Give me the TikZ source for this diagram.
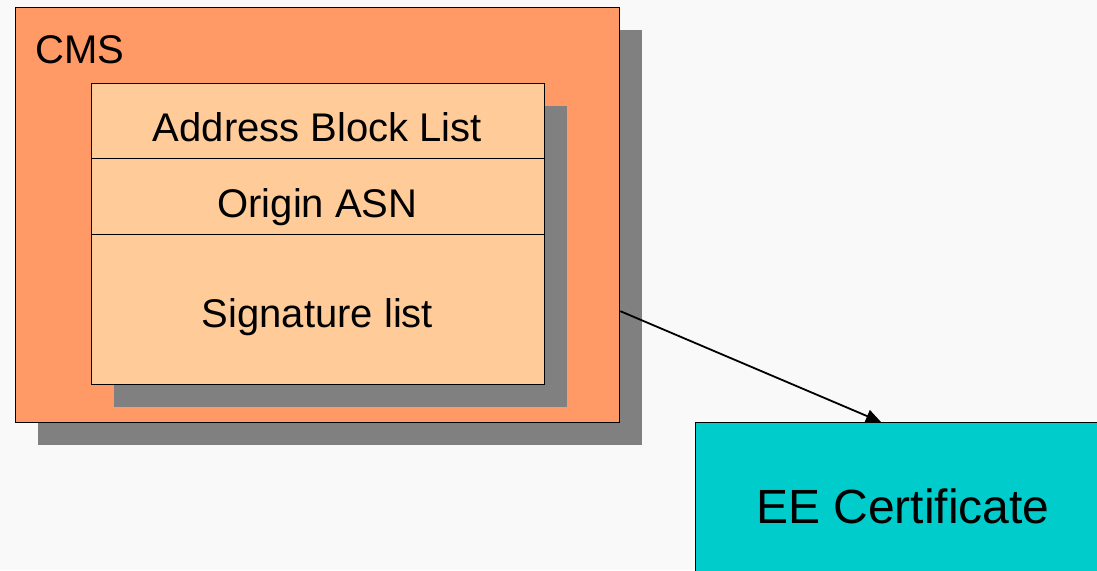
\documentclass[tikz,border=0pt]{standalone}
\usepackage{fontspec}
\setmainfont{Liberation Sans}
\usetikzlibrary{shadows,arrows.meta}
\definecolor{cmsorange}{RGB}{255,153,102}
\definecolor{rowpeach}{RGB}{255,204,153}
\definecolor{shadowgray}{RGB}{128,128,128}
\definecolor{certcyan}{RGB}{0,204,204}
\definecolor{bgwhite}{RGB}{249,249,249}
\tikzset{
  box/.style={draw=black, line width=1.4pt, inner sep=0pt, anchor=north west},
  shad/.style={drop shadow={shadow xshift=22pt, shadow yshift=-22pt, fill=shadowgray, opacity=1}},
  rowbox/.style={box, fill=rowpeach, minimum width=453pt},
  label/.style={anchor=base, inner sep=0pt, font=\fontsize{40}{44}\selectfont},
  link/.style={draw=black, line width=1.8pt, -{Triangle[length=15pt,width=13pt]}}
}
\begin{document}
\begin{tikzpicture}[x=1pt,y=-1pt]
\fill[bgwhite] (0,0) rectangle (1097,570);
\useasboundingbox (0,0) rectangle (1097,570);
\node[box, shad, fill=cmsorange, minimum width=604pt, minimum height=415pt] (cms) at (15,7) {};
\node[label, anchor=base west] (cmslabel) at (35,63) {CMS};
\node[box, shad, fill=rowpeach, minimum width=453pt, minimum height=301pt] (inner) at (91,83) {};
\node[rowbox, minimum height=75pt] (addr) at (91,83) {};
\node[rowbox, minimum height=76pt] (origin) at (91,158) {};
\node[rowbox, minimum height=150pt] (sig) at (91,234) {};
\node[label] (addrlabel) at (317.5,141) {Address Block List};
\node[label] (originlabel) at (317.5,217) {Origin ASN};
\node[label] (siglabel) at (317.5,327) {Signature list};
\node[box, fill=certcyan, minimum width=430pt, minimum height=170pt] (cert) at (695,422) {};
\node[label, font=\fontsize{48}{52}\selectfont] (certlabel) at (903,523) {EE Certificate};
\draw[link] ([yshift=-96pt]cms.east) -- ([xshift=186pt]cert.north west);
\end{tikzpicture}
\end{document}
